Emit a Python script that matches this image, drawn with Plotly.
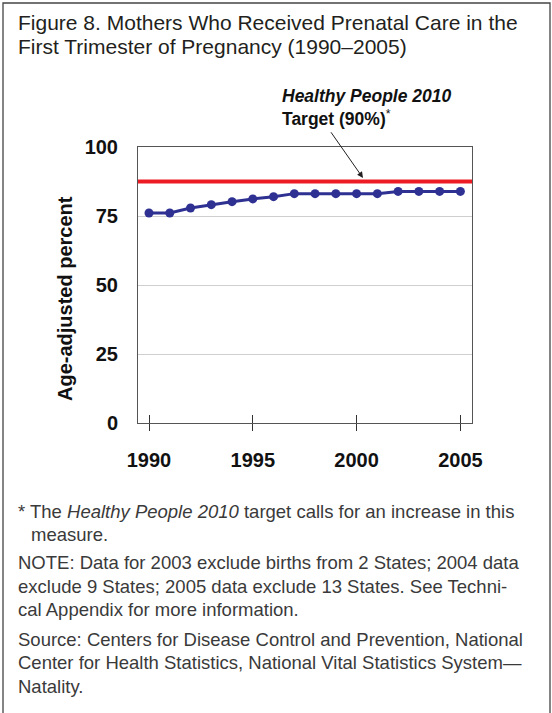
import plotly.graph_objects as go

# ---- data ----
years = [1990, 1991, 1992, 1993, 1994, 1995, 1996, 1997,
         1998, 1999, 2000, 2001, 2002, 2003, 2004, 2005]
percent = [76.1, 76.1, 77.9, 79.1, 80.2, 81.2, 82.0, 83.1,
           83.1, 83.1, 83.1, 83.1, 83.9, 83.9, 83.9, 83.9]
target_line = 87.5
x_ticks = [1990, 1995, 2000, 2005]
y_ticks = [0, 25, 50, 75, 100]

title_lines = ["Figure 8. Mothers Who Received Prenatal Care in the",
               "First Trimester of Pregnancy (1990\u20132005)"]
foot_lines = [
    "* The <i>Healthy People 2010</i> target calls for an increase in this",
    "measure.",
    "NOTE: Data for 2003 exclude births from 2 States; 2004 data",
    "exclude 9 States; 2005 data exclude 13 States. See Techni-",
    "cal Appendix for more information.",
    "Source: Centers for Disease Control and Prevention, National",
    "Center for Health Statistics, National Vital Statistics System\u2014",
    "Natality.",
]

# ---- layout helpers ----
W, H = 552, 713
L, R, T, B = 138, 472, 147, 423
FONT = "Liberation Sans, Arial, Helvetica, sans-serif"


def px(x):
    return (x - L) / (R - L)


def py(y):
    return (B - y) / (B - T)


NAVY = "#2E3192"
RED = "#ED1C24"

fig = go.Figure()
fig.add_trace(go.Scatter(
    x=years, y=percent, mode="lines+markers",
    line=dict(color=NAVY, width=3),
    marker=dict(color=NAVY, size=9),
    showlegend=False, hoverinfo="x+y"))
# invisible trace so the overlay axis (upper half of tick marks) is drawn
fig.add_trace(go.Scatter(x=[years[0]], y=[None], xaxis="x2", mode="markers",
                         showlegend=False, hoverinfo="skip"))

fig.add_hline(y=target_line, line_color=RED, line_width=4)

fig.update_layout(
    width=W, height=H,
    margin=dict(l=L, r=W - R, t=T, b=H - B),
    paper_bgcolor="white", plot_bgcolor="white",
    font=dict(family=FONT, color="#231f20"),
    xaxis=dict(range=[1989.47, 2005.56], tickvals=x_ticks,
               ticks="outside", ticklen=7, tickwidth=1.2, tickcolor="#333",
               showline=True, mirror=True, linecolor="#555", linewidth=1,
               showgrid=False, zeroline=False,
               tickfont=dict(size=20, weight="bold", color="#111"),
               ticklabelstandoff=12),
    xaxis2=dict(overlaying="x", matches="x", anchor="y", side="bottom",
                tickvals=x_ticks, ticks="inside", ticklen=8, tickwidth=1.2,
                tickcolor="#333", showticklabels=False, showline=False,
                showgrid=False, zeroline=False),
    yaxis=dict(range=[0, 100], tickvals=y_ticks, ticks="",
               showline=True, mirror=True, linecolor="#555", linewidth=1,
               showgrid=True, gridcolor="#cfcfcf", gridwidth=1, zeroline=False,
               tickfont=dict(size=20, weight="bold", color="#111"),
               ticklabelstandoff=15),
)

ann = []
# outer frame
fig.add_shape(type="path", xref="paper", yref="paper",
              path=(f"M {px(3)} {py(730)} L {px(3)} {py(3)} "
                    f"L {px(550)} {py(3)} L {px(550)} {py(730)}"),
              line=dict(color="#444", width=1.3))

for i, t in enumerate(title_lines):
    ann.append(dict(text=t, x=px(16), y=py(22 + 25 * i), xref="paper", yref="paper",
                    xanchor="left", yanchor="middle", showarrow=False,
                    font=dict(size=21, color="#231f20")))

# y-axis title
ann.append(dict(text="<b>Age-adjusted percent</b>", x=px(65), y=py(299),
                xref="paper", yref="paper", textangle=-90, showarrow=False,
                xanchor="center", yanchor="middle",
                font=dict(size=20, color="#111")))

# target label and arrow
ann.append(dict(text="<b><i>Healthy People 2010</i></b>", x=px(280), y=py(96),
                xref="paper", yref="paper", xanchor="left", yanchor="middle",
                showarrow=False, font=dict(size=17.5, color="#111")))
ann.append(dict(text="<b>Target (90%)</b><sup>*</sup>", x=px(280), y=py(118),
                xref="paper", yref="paper", xanchor="left", yanchor="middle",
                showarrow=False, font=dict(size=17.5, color="#111")))
ann.append(dict(text=" ", x=px(363), y=py(178), xref="paper", yref="paper",
                ax=-35, ay=-50, showarrow=True, arrowhead=2, arrowsize=1.2,
                arrowwidth=1, arrowcolor="#231f20", standoff=0))

foot_y = [511, 534, 562, 586, 609, 639, 662, 686]
foot_x = [16, 29, 16, 16, 16, 16, 16, 16]
for t, xx, yy in zip(foot_lines, foot_x, foot_y):
    ann.append(dict(text=t, x=px(xx), y=py(yy), xref="paper", yref="paper",
                    xanchor="left", yanchor="middle", showarrow=False,
                    font=dict(size=18.5, color="#3a3a3a")))

fig.update_layout(annotations=ann)
fig.write_html("out.html", config={"displayModeBar": False},
               post_script="document.body.style.margin='0';"
                           "document.body.style.overflow='hidden';")
